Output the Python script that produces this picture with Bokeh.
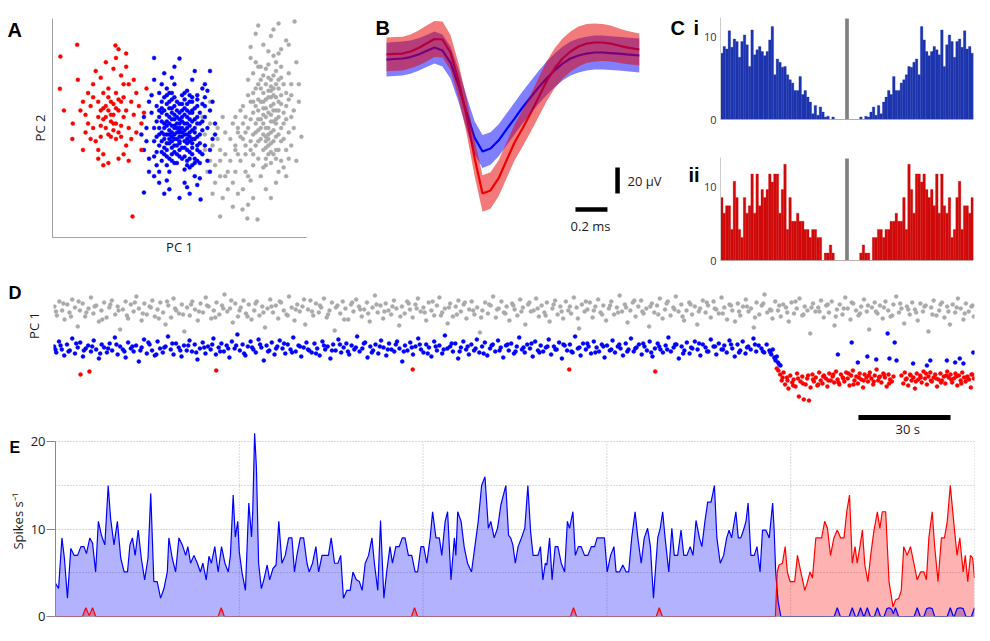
import numpy as np
from bokeh.plotting import figure
from bokeh.layouts import row, column
from bokeh.models import Label, FixedTicker, Range1d, Span, Grid
from bokeh.embed import file_html
from bokeh.resources import INLINE

FONT = "Open Sans"
BOLD = "Liberation Sans"

# ---------------- Panel A : PC1 / PC2 scatter (arbitrary units 0-100) ----------------
A_red = [(23,56),(21,60),(25,52),(22,64),(26,58),(20,54),(24,49),(27,62),(19,58),(23,46),(25,66),(21,50),(28,55),
         (22,58),(24,61),(18,62),(26,48),(20,66),(27,51),(23,53),(25,59),(19,51),(22,47),(28,64),(24,56),(21,55),
         (26,63),(20,59),(27,46),(23,62),(18,55),(25,45),(22,68),(29,58),(24,52),
         (15,60),(30,50),(16,50),(31,62),(14,66),(32,56),(17,44),(29,42),(13,56),(33,48),(16,70),(30,70),(18,40),
         (28,38),(12,62),(34,60),(19,73),(27,74),(15,45),(31,45),(20,38),(26,36),(14,52),(33,66),(17,76),(29,78),
         (21,80),(25,82),(13,48),(35,52),(18,36),(30,35),(22,34),(24,77),(11,58),(36,57),(16,64),(32,72),(19,46),(28,70),
         (3.1,82.6),(9.7,88),(24.8,87.7),(2.9,67.9),(4.5,58),(7.8,45),(31.5,9.6),(10,72),(8,52),(26,86),(29,84),
         (35,40),(12,40),(37,68),(20,33)]
A_blue = [(50,49),(48,51),(52,47),(49,45),(51,53),(47,48),(53,50),(50,43),(46,52),(54,46),(49,55),(51,41),(48,47),
          (52,52),(50,57),(47,44),(53,55),(49,50),(51,46),(46,49),(54,51),(50,52),(48,42),(52,44),(49,58),(51,50),
          (47,54),(53,43),(45,47),(55,49),(50,46),(48,56),(52,49),(46,45),(54,54),(50,40),(49,48),(51,55),(47,51),
          (53,47),(45,53),(55,45),(50,54),(48,45),(52,41),(49,52),(51,48),(47,57),(53,52),(50,44),(46,55),(54,48),
          (48,50),(52,56),(50,50),(49,42),(51,58),(47,46),(53,45),(50,48),
          (42,55),(58,47),(44,38),(57,60),(41,46),(59,53),(43,62),(56,36),(45,33),(55,64),(40,50),(60,42),(44,58),
          (57,40),(42,42),(58,57),(46,66),(54,32),(43,48),(57,52),(41,60),(59,38),(45,40),(55,58),(40,37),(60,60),
          (47,35),(53,67),(44,52),(56,45),(42,66),(58,34),(46,30),(54,62),(41,53),(59,49),(43,35),(57,65),(45,61),
          (55,38),(48,64),(52,31),(40,44),(60,55),(44,45),(56,54),(42,50),(58,43),(47,38),(53,61),(43,57),(57,35),
          (45,68),(55,41),(49,34),(51,65),(41,39),(59,61),(46,59),(54,36),
          (44,50),(56,50),(45,56),(55,43),(43,44),(57,55),(46,62),(54,39),(44,64),(56,34),(47,41),(53,58),(45,37),
          (55,62),(43,53),(57,46),(46,47),(54,57),(48,60),(52,37),(44,41),(56,59),(47,66),(53,35),(45,51),(55,53),
          (43,59),(57,42),(46,36),(54,65),(48,39),(52,63),(44,47),(56,48),(47,59),(53,40),(45,65),(55,33),(42,47),
          (58,52),(49,62),(51,36),(46,43),(54,44),(48,54),(52,59),(50,61),(50,37),(43,39),(57,63),(49,38),(51,61),
          (47,63),(53,33),(45,43),(55,57),(42,58),(58,39),(48,34),(52,66),
          (37,50),(63,45),(39,65),(62,58),(36,40),(64,52),(38,30),(61,35),(40,72),(60,70),(42,25),(58,27),(44,75),
          (56,76),(46,22),(54,20),(48,78),(50,18),(39,57),(62,40),(37,44),(63,62),(40,28),(61,67),(43,70),(57,24),
          (45,26),(55,72),(47,73),(53,23),(36,55),(64,47),(38,62),(62,30),(41,33),(59,68),(35,47),(61,50),(50,81.7),
          (40,82),(62,76),(36,20.5),(58.3,17.4),(44,20),(52,25),(48,70),(56,28),(42,30),(60,64),(38,36)]
A_gray = [(84,55),(86,60),(82,50),(85,45),(87,65),(83,40),(88,52),(84,70),(86,48),(81,58),(89,62),(85,38),(83,66),
          (87,44),(84,50),(86,72),(82,62),(88,40),(85,57),(83,47),(87,68),(84,36),(89,55),(81,44),(86,53),(83,74),
          (88,64),(85,42),(82,54),(87,58),(84,63),(86,39),(83,59),(88,46),(85,67),(80,52),(90,50),(84,44),(86,56),
          (82,68),(87,49),(84,59),(85,73),(83,52),(89,58),(81,49),(86,64),(84,41),(88,70),(85,50),
          (79,47),(89,47),(80,60),(88,58),(78,54),(90,65),(81,70),(87,38),(79,66),(89,72),(80,42),(88,76),(82,78),
          (86,34),(78,62),(90,44),(81,36),(87,74),(79,57),(89,68),(83,32),(85,79),(80,48),(88,54),(82,45),(86,67),
          (81,63),(87,61),(83,56),(85,47),(77,50),(91,57),(84,77),(84,33),(78,44),(90,61),(82,72),(86,43),(80,68),
          (88,36),(76,42),(92,54),(83,62),(85,64),(79,38),(89,40),(81,54),(87,53),(84,46),(86,69),
          (78,40),(92,60),(76,55),(93,48),(75,45),(91,70),(77,65),(94,55),(74,35),(92,40),(79,75),(90,78),(73,50),
          (94,65),(76,30),(91,32),(78,82),(89,84),(75,60),(93,75),(72,42),(95,50),(77,28),(92,28),(80,80),(88,80),
          (74,58),(93,36),(76,48),(91,45),(79,33),(94,70),(73,38),(92,66),(77,72),(90,35),(75,52),(95,58),(78,26),
          (89,30),(81,78),(87,83),(72,55),(94,42),(76,38),(91,52),(79,62),(93,63),(74,46),(90,73),
          (70,45),(68,38),(65,50),(72,30),(66,28),(63,42),(69,22),(62,35),(71,52),(67,55),(64,25),(60,47),(73,20),
          (68,48),(61,30),(70,35),(66,40),(59,55),(71,25),(64,33),(67,18),(62,52),(72,40),(65,45),(69,30),(60,40),
          (73,48),(63,20),(68,28),(66,35),
          (81,96.8),(89,97.7),(95.3,98.6),(86,92),(92,90),(83,88),(90,86),(78,87),(96,80),(97,62),(98,46),(96,35),
          (66,9.6),(76.7,8.7),(80.7,8.2),(74.8,12.8),(79,18),(84,22),(77,15),(88,25),(82,28),(71,14),(86,18),
          (75,22),(80,93),(87,95),(93,88),(85,85),(97,70),(62,62)]

# ---------------- Panel B : mean waveforms (ms, microvolts) ----------------
wave_t = [0.00,0.05,0.10,0.15,0.20,0.25,0.30,0.35,0.40,0.45,0.50,0.55,0.60,0.65,0.70,0.75,
          0.80,0.85,0.90,0.95,1.00,1.05,1.10,1.15,1.20,1.25,1.30,1.35,1.40,1.45,1.50,1.58]
blue_mean = [-3.1,-2.7,-2.3,-1.2,0.8,3.5,6.2,3.8,-5.4,-23.1,-43.8,-63.1,-73.8,-71.5,-65.4,-56.9,
             -48.5,-40.0,-32.3,-24.6,-17.7,-11.5,-6.2,-2.3,0.0,1.5,2.3,2.3,1.9,1.5,0.8,0.0]
blue_sd = [13,13,13,12.8,12.5,12.3,12.3,12.3,12.3,12.5,12.7,12.8,12.7,12.5,12.3,12.3,
           12.3,12.3,12.5,12.7,12.8,13,13,13,13,13,13,13,13,13,13,13]
red_mean = [0.8,1.2,1.5,3.1,5.8,9.2,12.7,12.3,2.3,-19.2,-46.2,-78.5,-106.2,-103.8,-94.6,-80.8,
            -66.9,-56.2,-44.6,-32.3,-20.0,-10.0,-2.3,3.1,6.9,9.2,10.0,10.0,9.2,7.7,6.2,4.6]
red_sd = [13,13,13,13,13.5,13.8,13.8,13.8,13.5,13.3,13.5,13.8,14,14,13.8,13.8,
          13.8,14,14.5,15,15.4,15.4,15.4,15.4,15.4,15,14.6,14.2,13.8,13.3,12.8,12.3]
SCALE_UV = 20.0   # vertical scale bar (microvolts)
SCALE_MS = 0.2    # horizontal scale bar (ms)

# ---------------- Panel C : autocorrelograms (1 ms bins, -50..50 ms) ----------------
acg_lag = list(range(-50, 50))
acg_blue = [8.0,8.8,8.5,10.7,8.7,9.7,9.4,7.5,9.4,10.2,9.0,6.4,10.8,7.8,8.4,8.8,8.2,7.7,8.2,9.6,
            11.2,5.4,7.3,6.9,6.3,6.4,5.4,4.8,4.4,3.5,3.5,5.2,3.0,3.5,2.7,2.1,0.7,1.7,0.5,1.5,
            0.9,0.3,0.4,0.0,0.3,0.0,0.0,0.0,0.0,0.0,
            0.0,0.0,0.0,0.0,0.0,0.3,0.0,0.4,0.3,0.9,1.5,0.5,1.7,0.7,2.1,2.7,3.5,3.0,5.2,3.5,
            3.5,4.4,4.8,5.4,6.4,6.3,6.9,7.3,5.4,11.2,9.6,8.2,7.7,8.2,8.8,8.4,7.8,10.8,6.4,9.0,
            10.2,9.4,7.5,9.4,9.7,8.7,10.7,8.5,8.8,8.0]
acg_red = [8.5,6.4,7.4,7.4,4.2,10.7,8.5,4.2,3.1,8.5,6.4,7.4,11.7,6.4,11.7,7.4,9.6,8.5,9.6,11.7,
           10.6,11.7,11.7,6.4,9.6,13.0,4.2,8.5,5.3,5.3,6.4,5.3,5.3,4.2,4.2,3.1,4.2,4.2,3.1,3.1,
           0.0,1.0,1.0,2.1,1.0,0.0,0.0,0.0,0.0,0.0,
           0.0,0.0,0.0,0.0,0.0,1.0,2.1,1.0,1.0,0.0,3.1,3.1,4.2,4.2,3.1,4.2,4.2,5.3,5.3,6.4,
           5.3,5.3,8.5,4.2,13.0,9.6,6.4,11.7,11.7,10.6,11.7,9.6,8.5,9.6,7.4,11.7,6.4,11.7,7.4,6.4,
           8.5,3.1,4.2,8.5,10.7,4.2,7.4,7.4,6.4,8.5]

# ---------------- Panel D : PC1 over time (s, arbitrary units) ----------------
D_gray = [(0.3,12.4),(1.1,11.5),(1.9,12.9),(2.8,12.0),(3.6,11.1),(4.5,12.6),(5.2,11.8),(6.1,13.1),(7.0,12.3),(7.9,10.4),
 (8.6,12.0),(9.5,12.7),(10.3,11.4),(11.4,12.2),(12.2,13.3),(13.0,11.7),(13.9,12.5),(14.8,10.9),(15.6,12.0),(16.5,12.8),
 (17.3,11.3),(18.2,12.3),(19.0,13.0),(20.1,11.6),(20.9,12.4),(21.7,10.1),(22.6,12.1),(23.5,12.9),(24.3,11.2),(25.2,12.6),
 (26.1,11.9),(27.0,13.4),(27.8,12.2),(28.7,11.0),(29.6,12.7),(30.4,11.6),(31.3,12.4),(32.2,13.0),(33.0,11.4),(33.9,12.1),
 (34.8,12.8),(35.7,11.8),(36.5,10.6),(37.4,12.5),(38.3,11.3),(39.1,13.2),(40.0,12.0),(40.9,11.7),(41.8,12.6),(42.6,9.9),
 (43.5,12.3),(44.4,11.5),(45.2,12.9),(46.1,12.1),(47.0,11.0),(47.9,12.7),(48.7,11.8),(49.6,13.3),(50.5,12.4),(51.4,11.2),
 (52.2,12.0),(53.1,12.8),(54.0,11.6),(54.9,12.5),(55.7,13.6),(56.6,11.9),(57.5,12.2),(58.4,10.8),(59.2,12.7),(60.1,11.4),
 (61.0,12.3),(61.9,13.0),(62.7,11.7),(63.6,12.6),(64.5,11.1),(65.4,12.0),(66.2,12.9),(67.1,11.5),(68.0,12.4),(68.9,10.3),
 (69.7,12.2),(70.6,13.1),(71.5,11.8),(72.4,12.5),(73.2,11.2),(74.1,12.8),(75.0,12.0),(75.9,11.6),(76.7,13.4),(77.6,12.3),
 (78.5,11.0),(79.4,12.6),(80.2,11.9),(81.1,12.4),(82.0,10.6),(82.9,12.1),(83.7,13.0),(84.6,11.5),(85.5,12.7),(86.4,11.8),
 (87.2,12.3),(88.1,13.2),(89.0,11.3),(89.9,12.0),(90.7,12.8),(91.6,10.0),(92.5,12.5),(93.4,11.7),(94.2,12.9),(95.1,12.2),
 (96.0,11.1),(96.9,12.6),(97.7,11.9),(98.6,13.1),(99.5,12.4),(100.4,11.4),(101.2,12.1),(102.1,12.8),(103.0,10.9),(103.9,12.3),
 (104.7,13.5),(105.6,11.8),(106.5,12.5),(107.4,11.2),(108.2,12.7),(109.1,12.0),(110.0,11.6),(110.9,13.0),(111.7,12.2),(112.6,10.5),
 (113.5,12.4),(114.4,11.7),(115.2,12.9),(116.1,12.1),(117.0,11.3),(117.9,12.6),(118.7,13.2),(119.6,11.9),(120.5,12.3),(121.4,11.0),
 (122.2,12.8),(123.1,12.0),(124.0,11.5),(124.9,12.5),(125.7,13.3),(126.6,11.8),(127.5,12.2),(128.4,10.7),(129.2,12.7),(130.1,11.4),
 (131.0,12.4),(131.9,13.0),(132.7,11.9),(133.6,12.6),(134.5,11.2),(135.4,12.1),(136.2,12.9),(137.1,11.6),(138.0,12.3),(138.9,9.8),
 (139.7,12.0),(140.6,12.8),(141.5,11.7),(142.4,12.5),(143.2,13.4),(144.1,11.3),(145.0,12.2),(145.9,12.9),(146.7,11.8),(147.6,12.4),
 (148.5,11.0),(149.4,12.7),(150.2,12.1),(151.1,11.5),(152.0,13.1),(152.9,12.3),(153.7,10.6),(154.6,12.6),(155.5,11.9),(156.4,12.0),
 (157.2,13.2),(158.1,11.4),(159.0,12.5),(159.9,11.8),(160.7,12.8),(161.6,10.9),(162.5,12.2),(163.4,13.0),(164.2,11.6),(165.1,12.4),
 (166.0,11.2),(166.9,12.9),(167.7,12.0),(168.6,11.7),(169.5,13.3),(170.4,12.3),(171.2,10.2),(172.1,12.6),(173.0,11.9),(173.9,12.1),
 (174.7,12.8),(175.6,11.3),(176.5,12.4),(177.4,13.1),(178.2,11.8),(179.1,12.5),(180.0,11.0),(180.9,12.2),(181.7,12.9),(182.6,11.6),
 (183.5,12.3),(184.4,13.5),(185.2,11.9),(186.1,12.6),(187.0,10.8),(187.9,12.0),(188.7,12.8),(189.6,11.4),(190.5,12.4),(191.4,13.0),
 (192.2,11.7),(193.1,12.2),(194.0,10.4),(194.9,12.7),(195.7,11.8),(196.6,12.5),(197.5,13.2),(198.4,11.2),(199.2,12.1),(200.1,12.9),
 (201.0,11.5),(201.9,12.3),(202.7,13.4),(203.6,11.9),(204.5,12.6),(205.4,11.0),(206.2,12.0),(207.1,12.8),(208.0,11.6),(208.9,12.4),
 (209.7,10.6),(210.6,12.2),(211.5,13.0),(212.4,11.8),(213.2,12.5),(214.1,11.3),(215.0,12.9),(215.9,12.1),(216.7,11.7),(217.6,13.3),
 (218.5,12.3),(219.4,11.1),(220.2,12.6),(221.1,12.0),(222.0,10.9),(222.9,12.7),(223.7,11.5),(224.6,12.4),(225.5,13.1),(226.4,11.9),
 (227.2,12.2),(228.1,10.3),(229.0,12.8),(229.9,11.6),(230.7,12.5),(231.6,13.6),(232.5,11.8),(233.4,12.1),(234.2,11.2),(235.1,12.9),
 (236.0,12.0),(236.9,11.4),(237.7,12.6),(238.6,12.3),(239.5,10.9),(240.4,12.8),(241.2,11.7),(242.1,12.2),(243.0,13.2),(243.9,11.5),
 (244.7,12.4),(245.6,12.0),(246.5,9.7),(247.4,12.7),(248.2,11.9),(249.1,12.3),(250.0,13.0),(250.9,11.3),(251.7,12.5),(252.6,11.8),
 (253.5,12.9),(254.4,10.5),(255.2,12.1),(256.1,12.6),(257.0,11.6),(257.9,13.3),(258.7,12.2),(259.6,11.1),(260.5,12.7),(261.4,12.0),
 (262.2,11.5),(263.1,12.4),(264.0,13.1),(264.9,11.9),(265.7,10.1),(266.6,12.3),(267.5,12.8),(268.4,11.7),(269.2,12.5),(270.1,11.2),
 (271.0,12.9),(271.9,12.0),(272.7,11.4),(273.6,12.6),(274.5,13.4),(275.4,11.8),(276.2,12.2),(277.1,10.7),(278.0,12.4),(278.9,11.6),
 (279.7,12.8),(280.6,12.1),(281.5,11.0),(282.4,12.7),(283.2,11.9),(284.1,12.5),(285.0,9.9),(285.9,12.3),(286.7,13.0),(287.6,11.5),
 (288.5,12.0),(289.4,12.8),(290.2,11.3),(291.1,12.4),(292.0,10.6),(292.9,12.6),(293.7,11.8),(294.6,13.2),(295.5,12.2),(296.4,11.1),
 (297.2,12.7),(298.1,11.9),(299.0,12.4),(299.8,11.4),
 (0.8,11.9),(3.2,12.7),(5.7,11.4),(8.2,12.9),(10.7,11.8),(13.4,12.4),(15.9,11.1),(18.5,12.6),(21.2,12.0),(23.9,11.5),
 (26.5,12.8),(29.1,11.7),(31.7,12.3),(34.3,11.2),(37.0,12.9),(39.6,12.2),(42.2,11.6),(44.8,12.6),(47.4,11.9),(50.0,12.5),
 (52.7,11.3),(55.3,12.2),(57.9,13.0),(60.6,12.0),(63.2,11.4),(65.8,12.7),(68.4,11.8),(71.0,12.4),(73.7,12.9),(76.3,11.5),
 (78.9,12.1),(81.6,13.1),(84.2,11.9),(86.8,12.5),(89.4,11.6),(92.0,12.3),(94.7,11.1),(97.3,12.8),(99.9,12.1),(102.5,11.7),
 (105.2,12.6),(107.8,11.9),(110.4,12.4),(113.0,11.4),(115.7,12.7),(118.3,12.2),(120.9,11.8),(123.5,12.9),(126.2,11.5),(128.8,12.3),
 (131.4,11.6),(134.0,12.8),(136.7,12.0),(139.3,11.3),(141.9,12.6),(144.5,12.1),(147.2,11.7),(149.8,12.5),(152.4,11.9),(155.0,12.8),
 (157.7,12.2),(160.3,11.5),(162.9,12.6),(165.5,11.9),(168.2,12.4),(170.8,11.2),(173.4,12.9),(176.0,12.0),(178.7,11.6),(181.3,12.5),
 (183.9,11.8),(186.5,12.3),(189.2,13.0),(191.8,11.9),(194.4,12.4),(197.0,11.6),(199.7,12.7),(202.3,12.1),(204.9,11.4),(207.5,12.6),
 (210.2,11.9),(212.8,12.8),(215.4,12.2),(218.0,11.7),(220.7,12.5),(223.3,11.9),(225.9,12.4),(228.5,11.3),(231.2,12.7),(233.8,12.0),
 (236.4,12.5),(239.0,11.8),(241.7,12.9),(244.3,11.6),(246.9,12.3),(249.5,11.9),(252.2,12.6),(254.8,11.4),(257.4,12.2),(260.0,12.8),
 (262.7,11.7),(265.3,12.5),(267.9,11.9),(270.5,12.3),(273.2,11.5),(275.8,12.7),(278.4,12.1),(281.0,11.8),(283.7,12.4),(286.3,11.6),
 (288.9,12.6),(291.5,11.9),(294.2,12.3),(296.8,11.7),(299.4,12.5)]
D_blue = [(0.2,8.4),(0.9,7.8),(1.8,8.9),(2.7,8.1),(3.5,7.5),(4.4,8.6),(5.3,8.0),(6.1,9.2),(7.0,7.7),(7.9,8.3),
 (8.7,8.8),(9.6,7.4),(10.5,8.2),(11.3,8.5),(12.2,7.9),(13.1,9.0),(13.9,8.1),(14.8,7.2),(15.7,8.6),(16.5,8.3),
 (17.4,7.8),(18.3,8.7),(19.1,8.0),(20.0,9.3),(20.9,7.6),(21.7,8.4),(22.6,8.1),(23.5,7.3),(24.3,8.8),(25.2,8.2),
 (26.1,7.9),(26.9,8.5),(27.8,6.9),(28.7,8.3),(29.5,9.1),(30.4,7.7),(31.3,8.6),(32.1,8.0),(33.0,7.5),(33.9,8.9),
 (34.7,8.2),(35.6,7.8),(36.5,8.4),(37.3,9.4),(38.2,8.1),(39.1,7.6),(39.9,8.7),(40.8,8.3),(41.7,7.4),(42.5,8.5),
 (43.4,8.0),(44.3,9.0),(45.1,7.9),(46.0,8.6),(46.9,7.1),(47.7,8.2),(48.6,8.8),(49.5,7.7),(50.3,8.4),(51.2,8.1),
 (52.1,9.2),(52.9,7.6),(53.8,8.3),(54.7,8.7),(55.5,7.9),(56.4,8.5),(57.3,7.3),(58.1,8.9),(59.0,8.2),(59.9,9.6),
 (60.7,8.0),(61.6,8.6),(62.5,7.5),(63.3,8.4),(64.2,8.9),(65.1,8.1),(65.9,7.8),(66.8,9.1),(67.7,8.3),(68.5,7.0),
 (69.4,8.5),(70.3,8.0),(71.1,8.8),(72.0,7.6),(72.9,8.4),(73.7,9.0),(74.6,8.2),(75.5,7.7),(76.3,8.6),(77.2,8.1),
 (78.1,9.3),(78.9,7.9),(79.8,8.5),(80.7,7.4),(81.5,8.3),(82.4,8.8),(83.3,8.0),(84.1,7.8),(85.0,8.7),(85.9,8.2),
 (86.7,7.5),(87.6,8.9),(88.5,8.1),(89.3,8.4),(90.2,7.2),(91.1,8.6),(91.9,8.0),(92.8,9.1),(93.7,7.8),(94.5,8.3),
 (95.4,8.7),(96.3,7.6),(97.1,8.5),(98.0,8.1),(98.9,9.4),(99.7,7.9),(100.6,8.2),(101.5,8.8),(102.3,7.3),(103.2,8.4),
 (104.1,8.0),(104.9,8.6),(105.8,7.7),(106.7,9.0),(107.5,8.3),(108.4,7.5),(109.3,8.7),(110.1,8.1),(111.0,7.9),(111.9,8.9),
 (112.7,8.2),(113.6,6.9),(114.5,8.5),(115.3,8.0),(116.2,8.8),(117.1,7.6),(117.9,8.4),(118.8,9.2),(119.7,8.1),(120.5,7.8),
 (121.4,8.6),(122.3,8.3),(123.1,7.4),(124.0,8.9),(124.9,8.0),(125.7,8.5),(126.6,7.7),(127.5,9.5),(128.3,8.2),(129.2,8.4),
 (130.1,7.9),(130.9,8.7),(131.8,7.2),(132.7,8.3),(133.5,8.9),(134.4,8.1),(135.3,7.6),(136.1,8.6),(137.0,8.0),(137.9,9.1),
 (138.7,7.8),(139.6,8.4),(140.5,8.8),(141.3,7.5),(142.2,8.2),(143.1,8.6),(143.9,7.9),(144.8,9.0),(145.7,8.3),(146.5,7.3),
 (147.4,8.5),(148.3,8.0),(149.1,8.7),(150.0,7.7),(150.9,8.4),(151.7,9.3),(152.6,8.1),(153.5,7.8),(154.3,8.6),(155.2,8.2),
 (156.1,7.4),(156.9,8.9),(157.8,8.0),(158.7,8.5),(159.5,7.9),(160.4,8.3),(161.3,9.1),(162.1,7.6),(163.0,8.4),(163.9,8.1),
 (164.7,8.8),(165.6,7.2),(166.5,8.5),(167.3,8.0),(168.2,8.6),(169.1,7.8),(169.9,9.4),(170.8,8.2),(171.7,7.5),(172.5,8.7),
 (173.4,8.1),(174.3,8.4),(175.1,7.7),(176.0,8.9),(176.9,8.3),(177.7,7.9),(178.6,8.6),(179.5,7.3),(180.3,8.5),(181.2,8.0),
 (182.1,9.0),(182.9,7.8),(183.8,8.4),(184.7,8.2),(185.5,7.5),(186.4,8.7),(187.3,8.1),(188.1,9.2),(189.0,7.9),(189.9,8.3),
 (190.7,8.6),(191.6,7.6),(192.5,8.4),(193.3,8.0),(194.2,8.9),(195.1,7.4),(195.9,8.2),(196.8,8.7),(197.7,8.1),(198.5,7.8),
 (199.4,8.5),(200.3,9.3),(201.1,7.9),(202.0,8.3),(202.9,8.6),(203.7,7.2),(204.6,8.4),(205.5,8.0),(206.3,8.8),(207.2,7.7),
 (208.1,8.2),(208.9,8.9),(209.8,8.1),(210.7,7.5),(211.5,8.6),(212.4,8.3),(213.3,7.9),(214.1,9.1),(215.0,8.4),(215.9,7.6),
 (216.7,8.7),(217.6,8.1),(218.5,8.5),(219.3,7.8),(220.2,9.0),(221.1,8.2),(221.9,7.4),(222.8,8.6),(223.7,8.0),(224.5,8.9),
 (225.4,7.7),(226.3,8.4),(227.1,8.1),(228.0,9.2),(228.9,7.9),(229.7,8.5),(230.6,8.2),(231.5,7.8),(232.3,8.6),(233.2,8.0),
 (233.8,7.6),(234.3,8.1),(234.8,7.3),(235.2,7.0),(235.6,7.4),(236.0,6.8),(236.4,6.6),(236.8,6.5),
 (0.6,8.1),(2.3,8.5),(4.9,7.9),(7.4,8.7),(9.9,8.0),(12.6,8.4),(15.2,7.7),(17.8,8.2),(20.5,8.6),(23.1,7.9),
 (25.7,8.4),(28.3,8.0),(30.9,8.8),(33.5,7.6),(36.1,8.3),(38.7,8.7),(41.3,8.0),(43.9,8.5),(46.5,7.8),(49.1,8.3),
 (51.7,8.6),(54.3,7.9),(56.9,8.2),(59.5,8.5),(62.1,7.7),(64.7,8.3),(67.3,8.6),(69.9,7.9),(72.5,8.2),(75.1,8.7),
 (77.7,7.8),(80.3,8.4),(82.9,8.1),(85.5,7.7),(88.1,8.5),(90.7,8.0),(93.3,8.6),(95.9,7.9),(98.5,8.3),(101.1,8.7),
 (103.7,7.8),(106.3,8.4),(108.9,8.1),(111.5,8.6),(114.1,7.9),(116.7,8.3),(119.3,8.6),(121.9,7.7),(124.5,8.4),(127.1,8.1),
 (129.7,8.7),(132.3,7.9),(134.9,8.4),(137.5,8.2),(140.1,7.7),(142.7,8.5),(145.3,8.0),(147.9,8.6),(150.5,7.9),(153.1,8.3),
 (155.7,8.7),(158.3,7.8),(160.9,8.4),(163.5,8.1),(166.1,8.6),(168.7,7.9),(171.3,8.3),(173.9,8.7),(176.5,7.8),(179.1,8.4),
 (181.7,8.1),(184.3,8.6),(186.9,7.9),(189.5,8.2),(192.1,8.7),(194.7,7.8),(197.3,8.4),(199.9,8.1),(202.5,8.6),(205.1,7.7),
 (207.7,8.3),(210.3,8.7),(212.9,7.9),(215.5,8.4),(218.1,8.1),(220.7,8.6),(223.3,7.8),(225.9,8.3),(228.5,8.6),(231.1,7.9),
 (233.5,7.8),(235.0,7.2),
 (255.5,7.6),(260.0,8.8),(262.0,6.8),(265.1,7.4),(268.0,7.1),(271.7,9.7),(272.3,7.2),(274.0,8.8),(274.6,7.0),
 (280.0,6.7),(284.5,6.5),(285.6,7.0),(291.0,7.0),(293.7,6.8),(295.2,7.2),(296.4,6.7),(299.6,7.8)]
D_red = [(235.6,6.2),(236.1,6.0),(236.7,5.6),(237.2,5.0),(237.8,5.8),(238.3,4.6),(238.9,5.3),(239.4,4.2),(240.0,5.5),(240.6,4.8),
 (241.1,5.1),(241.7,4.4),(242.2,5.7),(242.8,3.4),(243.3,4.9),(243.9,5.4),(244.4,3.1),(245.0,4.6),(245.5,5.2),(246.1,3.0),
 (246.6,4.3),(247.2,5.6),(247.7,4.9),(248.3,5.3),(248.8,4.5),(249.4,5.8),(249.9,5.0),(250.5,4.7),(251.0,5.5),(251.6,5.2),
 (252.1,4.4),(252.7,5.7),(253.2,5.0),(253.8,5.4),(254.3,4.8),(254.9,5.9),(255.4,5.1),(256.0,4.6),(256.5,5.6),(257.1,5.3),
 (257.6,4.9),(258.2,5.8),(258.7,5.2),(259.3,4.5),(259.8,5.5),(260.4,6.0),(260.9,5.0),(261.5,5.4),(262.0,4.7),(262.6,5.7),
 (263.1,5.1),(263.7,4.3),(264.2,5.6),(264.8,5.3),(265.3,4.9),(265.9,5.8),(266.4,5.2),(267.0,4.6),(267.5,5.5),(268.1,6.1),
 (268.6,5.0),(269.2,5.4),(269.7,4.8),(270.3,5.7),(270.8,5.3),(271.4,4.4),(272.0,5.6),(272.5,5.1),(273.1,4.9),(273.6,5.4),
 (276.2,5.5),(276.8,4.7),(277.3,5.8),(277.9,5.2),(278.4,4.5),(279.0,5.6),(279.5,5.0),(280.1,5.3),(280.6,4.2),(281.2,5.7),
 (281.7,5.1),(282.3,5.5),(282.8,4.8),(283.4,5.9),(283.9,5.2),(284.5,4.6),(285.0,5.4),(285.6,5.8),(286.1,4.9),(286.7,5.3),
 (287.2,5.6),(287.8,4.4),(288.3,5.1),(288.9,5.7),(289.4,5.0),(290.0,5.4),(290.5,4.7),(291.1,5.9),(291.6,5.3),(292.2,5.6),
 (292.7,4.8),(293.3,5.2),(293.8,5.7),(294.4,4.5),(294.9,5.5),(295.5,5.0),(296.0,5.8),(296.6,5.3),(297.1,4.9),(297.7,5.4),
 (298.2,5.1),(298.8,4.3),(299.3,5.6),(299.8,5.2),
 (237.5,5.3),(239.1,5.0),(240.9,4.5),(242.5,5.2),(244.1,4.7),(245.8,5.5),(247.4,5.1),(249.1,4.6),(250.7,5.4),(252.4,5.0),
 (254.0,5.6),(255.7,4.8),(257.3,5.2),(259.0,5.7),(260.6,4.6),(262.3,5.3),(263.9,5.0),(265.6,5.5),(267.2,4.9),(268.9,5.3),
 (270.5,5.6),(272.2,4.7),(277.6,5.1),(279.2,5.5),(280.9,4.9),(282.5,5.3),(284.2,5.7),(285.8,5.0),(287.5,5.2),(289.1,4.8),
 (290.8,5.5),(292.4,5.1),(294.1,5.4),(295.7,4.7),(297.4,5.3),(299.0,5.6),
 (8.8,5.6),(11.7,5.9),(53.0,6.0),(117.0,6.1),(168.0,6.1),(196.0,5.9)]
SCALE_S = 30.0

# ---------------- Panel E : firing rate (s, spikes/s) ----------------
E_blue = [(0,3.8),(1.0,3.2),(2.1,9.0),(2.9,6.7),(3.9,2.1),(5.0,7.8),(6.1,7.0),(7.2,7.0),(8.3,8.0),(9.3,8.0),
 (10.1,7.2),(11.2,9.0),(12.1,8.4),(13.1,5.1),(14.0,10.9),(15.0,9.3),(16.1,8.2),(17.2,15.0),(18.0,11.2),(19.1,8.2),
 (20.2,10.9),(21.3,6.7),(22.4,5.1),(23.5,5.1),(24.3,8.2),(25.1,9.0),(26.0,7.0),(27.0,9.9),(28.0,6.7),(29.1,4.2),
 (30.2,6.7),(31.1,14.1),(32.1,4.0),(33.2,4.0),(34.3,2.1),(35.4,3.2),(36.5,5.1),(37.0,9.0),(38.1,6.7),(39.2,5.1),
 (40.3,9.0),(41.4,8.2),(42.5,7.0),(43.2,8.0),(44.1,6.1),(45.2,7.0),(46.3,6.1),(47.3,5.1),(48.1,6.1),(49.2,4.2),
 (50.1,6.9),(50.9,6.1),(52.0,8.0),(53.1,5.1),(54.2,8.0),(55.3,6.1),(56.4,5.1),(57.1,7.0),(58.0,13.9),(58.7,9.1),
 (59.5,10.9),(60.0,7.4),(60.9,5.0),(62.0,3.0),(63.1,13.0),(64.0,9.1),(64.4,12.2),(65.0,21.0),(65.6,17.0),(66.3,6.1),
 (67.2,3.2),(68.0,4.2),(69.1,5.9),(69.9,4.2),(71.0,5.5),(72.0,5.9),(72.9,10.9),(73.9,6.1),(75.0,7.0),(76.1,9.0),
 (77.2,9.0),(78.0,5.1),(78.8,7.0),(79.9,9.0),(81.0,9.0),(82.1,6.1),(82.8,5.1),(83.9,6.1),(85.0,8.0),(85.9,5.1),
 (87.0,7.0),(88.1,7.0),(89.1,7.0),(90.0,9.0),(91.1,6.1),(92.2,6.1),(93.1,7.0),(94.0,2.1),(95.1,3.0),(96.2,3.0),
 (97.1,5.1),(98.2,4.2),(99.2,4.0),(100.1,3.0),(101.1,6.1),(102.2,7.0),(103.3,9.0),(104.1,6.1),(105.2,3.0),(106.1,11.0),
 (107.2,2.1),(108.1,5.1),(109.2,8.0),(110.0,6.1),(111.1,8.0),(112.2,8.0),(113.2,9.0),(114.1,9.0),(115.2,7.0),(116.3,7.0),
 (117.4,5.1),(118.2,5.1),(119.3,8.0),(120.2,8.0),(121.2,6.1),(122.3,9.0),(123.1,12.0),(124.2,9.0),(125.3,9.0),(126.1,7.0),
 (127.2,10.9),(128.0,12.0),(129.1,4.2),(130.2,9.0),(130.7,7.0),(131.3,12.0),(132.4,10.9),(133.4,8.0),(134.5,6.1),(135.8,5.1),
 (136.9,8.0),(138.0,10.9),(139.1,15.0),(140.2,16.0),(141.3,10.1),(142.1,10.9),(143.2,9.0),(144.3,10.1),(145.4,12.8),(147.0,15.0),
 (147.9,9.3),(148.6,9.0),(149.3,8.2),(150.1,6.1),(151.0,8.0),(152.1,9.0),(153.2,10.1),(154.2,15.0),(155.1,9.7),(155.9,7.0),
 (156.7,7.0),(157.5,7.0),(158.3,8.0),(159.1,4.2),(159.9,6.1),(160.4,5.9),(161.3,9.0),(162.1,4.2),(163.1,8.0),(164.0,8.0),
 (165.1,6.1),(166.2,5.1),(167.1,10.9),(167.8,10.1),(168.9,12.0),(169.7,7.0),(170.7,8.0),(171.6,8.0),(172.7,7.0),(173.8,7.0),
 (174.9,8.0),(176.0,8.0),(176.8,9.0),(178.1,9.0),(179.2,9.0),(180.1,5.1),(181.2,7.0),(182.3,8.0),(183.0,5.1),(184.1,5.1),
 (185.2,5.9),(186.3,5.1),(187.1,5.1),(188.1,9.0),(189.2,12.0),(190.1,9.0),(191.2,6.1),(192.2,9.0),(193.3,10.1),(194.2,8.0),
 (195.2,2.1),(195.8,5.1),(196.6,9.0),(197.4,10.1),(198.2,12.0),(199.0,9.0),(200.2,5.1),(201.2,10.1),(202.0,7.0),(203.1,7.0),
 (204.2,9.9),(205.1,7.0),(206.1,7.0),(207.2,8.0),(208.1,7.0),(209.1,11.0),(210.2,9.0),(211.0,8.0),(212.0,10.9),(212.9,13.1),
 (214.0,13.1),(215.1,15.0),(215.9,9.0),(217.0,6.1),(218.1,7.0),(219.1,9.0),(219.9,9.9),(220.7,9.0),(222.1,12.0),(222.9,9.0),
 (223.7,9.0),(224.6,9.9),(225.4,10.9),(226.1,13.0),(227.0,7.0),(228.1,7.0),(229.0,8.0),(230.0,5.1),(230.8,9.9),(231.9,9.9),
 (233.0,9.0),(234.1,13.0),(234.6,9.9),(235.1,5.1),(235.9,1.7),(236.8,0),
 (254.2,0),(255.2,1.0),(256.2,0),(259.1,0),(260.1,1.0),(261.1,0),(261.8,0),(262.8,1.0),(263.8,0),(264.0,0),(265.0,1.0),
 (266.0,0),(267.3,0),(268.3,1.0),(269.3,0),(270.5,0),(271.4,0.9),(272.2,1.0),(273.0,0.8),(273.5,0.3),(274.2,1.0),(275.2,0),
 (280.3,0),(281.3,1.0),(282.3,0),(283.5,0),(284.4,0.9),(285.3,1.0),(286.2,0.9),(287.0,0),(291.1,0),(292.1,1.0),(293.1,0),
 (293.4,0),(294.3,0.9),(295.3,1.0),(296.3,0.9),(297.2,0),(299.0,0),(300.0,1.0)]
E_red = [(0,0),(8.8,0),(9.9,1.0),(11.0,0.1),(12.1,1.0),(13.1,0),(53.1,0),(54.1,1.0),(55.1,0),(116.2,0),(117.2,1.0),
 (118.2,0),(168.1,0),(169.1,1.0),(170.1,0),(196.1,0),(197.1,1.0),(198.1,0),(235.0,0),
 (235.6,5.1),(236.2,5.9),(237.3,6.1),(238.2,8.0),(238.9,5.1),(239.8,4.0),(240.6,4.0),(241.3,4.0),(242.2,7.0),(243.3,5.1),
 (244.6,3.0),(245.5,4.0),(246.3,5.1),(247.1,4.4),(248.2,9.0),(249.3,9.0),(250.1,9.0),(251.1,10.9),(252.0,10.1),(253.0,7.0),
 (254.1,9.0),(255.2,9.9),(256.3,9.0),(257.4,9.0),(258.3,12.0),(259.2,13.9),(260.1,6.1),(261.0,8.0),(261.7,6.1),(262.6,8.0),
 (263.4,9.9),(264.2,5.9),(265.2,4.0),(266.1,7.0),(267.2,9.9),(268.3,12.0),(269.1,10.1),(269.9,12.0),(271.0,12.0),(272.1,4.0),
 (273.4,1.1),(274.2,1.9),(275.3,2.1),(276.1,3.0),(276.9,8.0),(278.0,7.0),(279.1,8.0),(280.2,6.1),(281.3,4.2),(282.4,5.1),
 (283.5,5.1),(284.3,4.2),(285.1,9.0),(286.2,12.0),(287.0,8.0),(288.1,4.0),(289.2,9.0),(290.2,9.0),(291.1,10.9),(292.1,15.0),
 (293.2,10.9),(294.3,7.0),(295.2,9.0),(296.3,5.1),(297.0,7.0),(297.8,4.0),(298.7,7.0),(299.4,6.7),(300.0,4.4)]
E_vgrid = [60, 120, 180, 240, 300]
E_hgrid = [5, 10, 15, 20]
E_ticks = [0, 10, 20]

BLUE, RED, GRAY = "#0000ff", "#ff0000", "#aaaaaa"


def base(w, h, xr, yr, l=0, r=0, t=0, b=0, xloc=None, yloc=None):
    p = figure(width=w, height=h, x_range=Range1d(*xr), y_range=Range1d(*yr),
               output_backend="svg", toolbar_location=None, tools="",
               x_axis_location=xloc, y_axis_location=yloc,
               min_border_left=l, min_border_right=r, min_border_top=t, min_border_bottom=b)
    p.outline_line_color = None
    p.xgrid.visible = False
    p.ygrid.visible = False
    p.background_fill_color = "white"
    p.border_fill_color = "white"
    return p


def text(p, x, y, s, size=13, font=FONT, style="normal", angle=0.0, align="left",
         baseline="alphabetic", color="#1a1a1a"):
    p.add_layout(Label(x=x, y=y, x_units="data", y_units="data", text=s, text_font=font,
                       text_font_size=f"{size}px", text_font_style=style, angle=angle,
                       text_align=align, text_baseline=baseline, text_color=color))


def letter(p, x, y, s, size=20):
    text(p, x, y, s, size=size, font=BOLD, style="bold", color="#000000")


def strip(w, top, bottom):
    # text-only strip; coordinates are pixels from the page's top-left (y negated)
    return base(w, bottom - top, (0, w), (-bottom, -top))


def xy(pts):
    return [a for a, _ in pts], [b for _, b in pts]


# ---- A ----
sA = strip(26, 0, 270)
letter(sA, 7, -29, "A")
pA = base(302, 270, (0, 100), (0, 100), 26, 22, 18, 33, xloc="below", yloc="left")
for ax in (pA.xaxis[0], pA.yaxis[0]):
    ax.ticker = FixedTicker(ticks=[])
    ax.axis_line_color = "#a0a0a0"
    ax.major_tick_line_color = None
    ax.minor_tick_line_color = None
    ax.major_tick_out = 0
    ax.major_label_standoff = 0
    ax.axis_label_text_font = FONT
    ax.axis_label_text_font_size = "13px"
    ax.axis_label_text_font_style = "normal"
    ax.axis_label_text_color = "#1a1a1a"
pA.yaxis[0].axis_label = "PC 2"
pA.yaxis[0].axis_label_standoff = 4
pA.xaxis[0].axis_label = "PC 1"
pA.xaxis[0].axis_label_standoff = 0
for pts, col in ((A_gray, GRAY), (A_blue, BLUE), (A_red, RED)):
    x, y = xy(pts)
    pA.scatter(x, y, size=4.0, fill_color=col, line_color=col, line_width=0.4)

# ---- B (also carries the C / i / ii panel letters) ----
pB = base(372, 270, (-0.3625, 1.9625), (-165.38, 42.31))
bm, bs = np.array(blue_mean), np.array(blue_sd)
rm, rs = np.array(red_mean), np.array(red_sd)
pB.line(wave_t, blue_mean, line_color=BLUE, line_width=2.2)
pB.line(wave_t, red_mean, line_color=RED, line_width=2.2)
pB.varea(x=wave_t, y1=bm - bs, y2=bm + bs, fill_color=BLUE, fill_alpha=0.5)
pB.varea(x=wave_t, y1=rm - rs, y2=rm + rs, fill_color="#e60000", fill_alpha=0.52)
sb_x, sb_y = 1.444, -106.2
pB.line([sb_x, sb_x], [sb_y, sb_y + SCALE_UV], line_color="black", line_width=4.5)
hb_x, hb_y = 1.181, -118.5
pB.line([hb_x, hb_x + SCALE_MS], [hb_y, hb_y], line_color="black", line_width=4.5)
text(pB, 1.506, -96.9, "20 µV", baseline="middle")
text(pB, 1.275, -130.8, "0.2 ms", align="center", baseline="middle")
letter(pB, -0.069, 20.8, "B")
letter(pB, 1.775, 21.5, "C")
letter(pB, 1.919, 21.5, "i")
letter(pB, 1.8875, -92.3, "ii")


# ---- C ----
def acg(counts, col, h, ymax, bt, bb, bar_top):
    p = base(282, h, (-50, 50), (0, ymax), 19, 9, bt, bb, yloc="left")
    ax = p.yaxis[0]
    ax.ticker = FixedTicker(ticks=[0, 10])
    ax.axis_line_color = "#cccccc"
    ax.major_tick_out = 0
    ax.major_tick_in = 0
    ax.minor_tick_line_color = None
    ax.major_label_standoff = 4
    ax.major_label_text_font = FONT
    ax.major_label_text_font_size = "11px"
    ax.major_label_text_color = "#333333"
    lag = np.array(acg_lag)
    p.quad(left=lag, right=lag + 1, bottom=0, top=counts, fill_color=col, line_color=col, line_width=0.3)
    p.vbar(x=0, width=1.45, bottom=0, top=bar_top, fill_color="#808080", line_color=None)
    p.add_layout(Span(location=0, dimension="width", line_color="#999999", line_width=1))
    return p


pCi = acg(acg_blue, "#1c34ae", 131, 12.3, 17, 12, 12.18)
pCii = acg(acg_red, "#d00a0a", 139, 13.92, 26, 10, 13.8)

# ---- D ----
sD = strip(53, 270, 420)
letter(sD, 8, -292, "D", size=18)
text(sD, 33, -325, "PC 1", angle=np.pi / 2, align="center", baseline="middle")
pD = base(929, 150, (0, 300), (1.0, 16.0), 0, 8, 0, 0)
for pts, col in ((D_gray, GRAY), (D_blue, BLUE), (D_red, RED)):
    x, y = xy(pts)
    pD.scatter(x, y, size=4.0, fill_color=col, line_color=col, line_width=0.4)
sx0, sy0 = 262.2, 1.3
pD.line([sx0, sx0 + SCALE_S], [sy0, sy0], line_color="black", line_width=5)

# ---- E ----
sE = strip(27, 420, 633)
letter(sE, 9, -447, "E", size=16)
text(sE, 17, -519, "Spikes  s⁻¹", size=13, angle=np.pi / 2, align="center", baseline="middle")
pE = base(955, 213, (0, 300), (0, 22.45), 26, 8, 0, 17, yloc="left")
ay = pE.yaxis[0]
ay.ticker = FixedTicker(ticks=E_ticks)
ay.bounds = (0, 20)
ay.axis_line_color = "#888888"
ay.major_tick_line_color = "#888888"
ay.major_tick_out = 9
ay.major_tick_in = 0
ay.minor_tick_line_color = None
ay.major_label_standoff = 1
ay.major_label_text_font = FONT
ay.major_label_text_font_size = "13px"
ay.major_label_text_color = "#222222"
pE.segment(x0=E_vgrid, y0=0, x1=E_vgrid, y1=20, line_color="#b4b4b4", line_dash="1 2", line_width=1)
pE.add_layout(Grid(dimension=1, ticker=FixedTicker(ticks=E_hgrid),
                   grid_line_color="#b4b4b4", grid_line_dash="1 2", grid_line_width=1))
bt_, bv_ = xy(E_blue)
rt_, rv_ = xy(E_red)
pE.varea(x=bt_, y1=0, y2=bv_, fill_color=BLUE, fill_alpha=0.3)
pE.varea(x=rt_, y1=0, y2=rv_, fill_color=RED, fill_alpha=0.3)
pE.line(bt_, bv_, line_color=BLUE, line_width=1.2)
pE.line(rt_, rv_, line_color=RED, line_width=1.2)
pE.add_layout(Span(location=0, dimension="width", line_color="#5a5a7a", line_width=1.2))
# label of the time scale bar drawn in panel D (sits just above the rate plot)
text(pE, sx0 + SCALE_S / 2 + 1, 21.53, "30 s", align="center", baseline="middle")

layout = column(
    row(column(sA), column(pA), column(pB), column(pCi, pCii)),
    row(column(sD), column(pD)),
    row(column(sE), column(pE)),
)
open("out.html", "w").write(file_html(layout, INLINE))
